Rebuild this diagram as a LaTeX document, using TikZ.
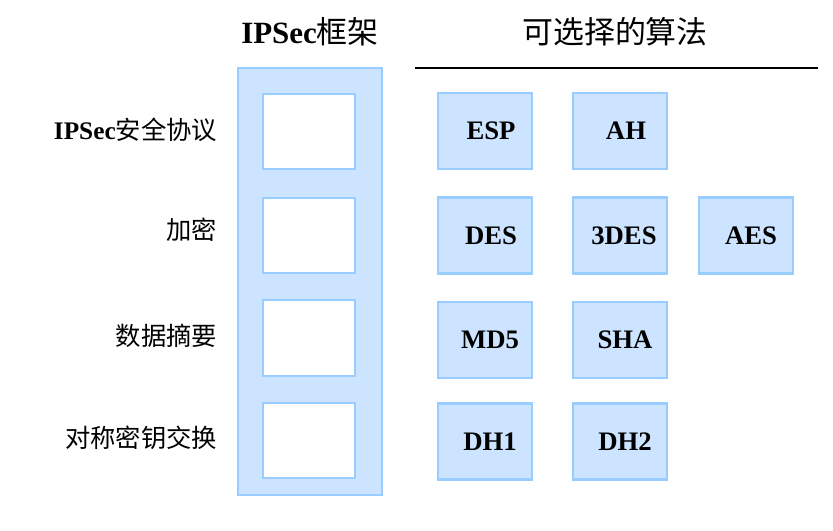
\documentclass[tikz,border=0pt]{standalone}
\usepackage{fontspec}
\setmainfont{Liberation Serif}
\newfontfamily\cjk{Noto Sans CJK SC}
\definecolor{boxfill}{HTML}{CCE4FF}
\definecolor{boxline}{HTML}{99CCFF}
\begin{document}
\begin{tikzpicture}[x=0.025cm,y=-0.025cm]
		\tikzstyle{algo} = [draw=boxline, fill=boxfill, line width=1.5pt, minimum width=2.35cm, minimum height=1.9cm, text width=2.05cm, align=center, font=\fontsize{19}{19}\selectfont\bfseries]
		\tikzstyle{slot} = [draw=boxline, fill=white, line width=1.5pt, minimum width=2.3cm, minimum height=1.88cm]
		\tikzstyle{rowlabel} = [anchor=east, font=\fontsize{18}{18}\selectfont\cjk]
		\useasboundingbox (0,0) rectangle (833,531);
		\node [font=\fontsize{22}{22}\selectfont\bfseries] (t1) at (310,32) {IPSec{\cjk\mdseries 框架}};
		\node [font=\fontsize{22}{22}\selectfont\cjk] (t2) at (615,32) {可选择的算法};
		\coordinate (l1) at (415,68);
		\coordinate (l2) at (818,68);
		\draw [line width=1.5pt] (l1) -- (l2);
		\node [draw=boxline, fill=boxfill, line width=1.5pt, minimum width=3.6cm, minimum height=10.68cm] (frame) at (310,281.5) {};
		\node [slot] (s1) at (309,131.5) {};
		\node [slot] (s2) at (309,235.5) {};
		\node [slot] (s3) at (309,338) {};
		\node [slot] (s4) at (309,440.5) {};
		\node [rowlabel] (r1) at (222,130) {\fontspec{Liberation Serif}\bfseries IPSec{\cjk\mdseries 安全协议}};
		\node [rowlabel] (r2) at (222,230) {加密};
		\node [rowlabel] (r3) at (222,336) {数据摘要};
		\node [rowlabel] (r4) at (222,438) {对称密钥交换};
		\node [algo] (esp) at (485,131) {\hspace*{0.3cm}ESP};
		\node [algo] (ah) at (620,131) {\hspace*{0.3cm}AH};
		\node [algo] (des) at (485,235.5) {\hspace*{0.3cm}DES};
		\node [algo] (3des) at (620,235.5) {\hspace*{0.2cm}3DES};
		\node [algo] (aes) at (746,235.5) {\hspace*{0.25cm}AES};
		\node [algo] (md5) at (485,340) {\hspace*{0.25cm}MD5};
		\node [algo] (sha) at (620,340) {\hspace*{0.25cm}SHA};
		\node [algo] (dh1) at (485,441.5) {\hspace*{0.25cm}DH1};
		\node [algo] (dh2) at (620,441.5) {\hspace*{0.25cm}DH2};
		\end{tikzpicture}
\end{document}
